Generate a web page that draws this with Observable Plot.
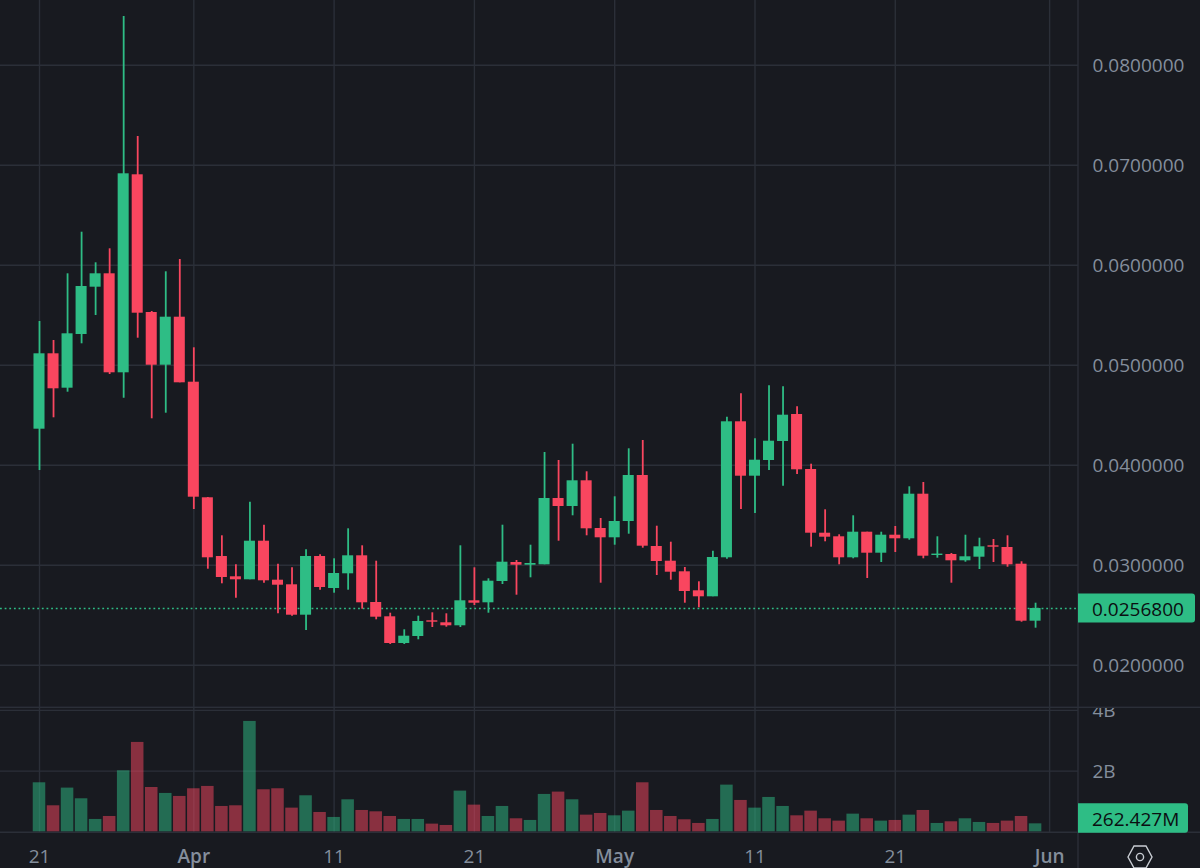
<!DOCTYPE html>
<html>
<head>
<meta charset="utf-8">
<script src="https://cdn.jsdelivr.net/npm/d3@7"></script>
<script src="https://cdn.jsdelivr.net/npm/@observablehq/plot@0.6"></script>
<style>
  html, body { margin: 0; padding: 0; background: #181a20; }
  #chart { width: 1200px; height: 868px; overflow: hidden; }
  #chart svg { display: block; max-width: none; }
</style>
</head>
<body>
<div id="chart"></div>
<script>
const startDay = "2024-03-21";
const xDomain = ["2024-03-18T05:17Z", "2024-06-03T01:26Z"];

const opens = [
  .04361,.05115,.04771,.05308,.05781,.05915,.04925,.06905,.05528,.05001,
  .05481,.04831,.03675,.03088,.02885,.02855,.03241,.02851,.02805,.02501,
  .03088,.02768,.02915,.03095,.02628,.02485,.02218,.02288,.02445,.02425,
  .02395,.02645,.02625,.02838,.03028,.03001,.03005,.03668,.03588,.03845,
  .03368,.03275,.03438,.03898,.03188,.03041,.02935,.02745,.02685,.03075,
  .04435,.03891,.04048,.04238,.04508,.03958,.03321,.03285,.03075,.03331,
  .03121,.03301,.03265,.03711,.03098,.03108,.03045,.03081,.03195,.03178,
  .03011,.02441];
const highs = [
  .05438,.05248,.05915,.06331,.06025,.06165,.08488,.07288,.05538,.05935,
  .06058,.05175,.03678,.03295,.03005,.03631,.03401,.03011,.02975,.03155,
  .03105,.03065,.03365,.03195,.03041,.02521,.02355,.02491,.02525,.02515,
  .03195,.02975,.02865,.03401,.03048,.03201,.04128,.04048,.04211,.03935,
  .03468,.03685,.04165,.04248,.03391,.03231,.02978,.02835,.03141,.04481,
  .04715,.04265,.04795,.04785,.04585,.04011,.03555,.03305,.03495,.03331,
  .03331,.03388,.03785,.03828,.03285,.03118,.03301,.03271,.03258,.03295,
  .03035,.02621];
const lows = [
  .03948,.04475,.04731,.05215,.05498,.04908,.04671,.05271,.04465,.04521,
  .04825,.03558,.02961,.02815,.02671,.02855,.02821,.02515,.02491,.02348,
  .02751,.02721,.02751,.02561,.02455,.02208,.02208,.02255,.02378,.02381,
  .02378,.02598,.02521,.02808,.02701,.02875,.03005,.03241,.03495,.03295,
  .02821,.03201,.03311,.03171,.02898,.02851,.02621,.02575,.02685,.03061,
  .03558,.03518,.03948,.03791,.03908,.03181,.03235,.03005,.03065,.02868,
  .03028,.03128,.03251,.03065,.03071,.02821,.03031,.02958,.03028,.02981,
  .02431,.02371];
const closes = [
  .05115,.04765,.05315,.05788,.05915,.04925,.06915,.05521,.05001,.05481,
  .04825,.03681,.03075,.02878,.02855,.03241,.02845,.02801,.02501,.03088,
  .02778,.02918,.03095,.02625,.02481,.02218,.02291,.02438,.02431,.02395,
  .02645,.02621,.02841,.03031,.03001,.03018,.03668,.03588,.03845,.03365,
  .03275,.03438,.03898,.03191,.03038,.02931,.02738,.02685,.03078,.04435,
  .03891,.04051,.04241,.04501,.03955,.03321,.03281,.03075,.03331,.03121,
  .03301,.03265,.03711,.03091,.03112,.03045,.03085,.03185,.03181,.03005,
  .02441,.02568];
// volume, in billions
const volumes = [
  1.615,.857,1.44,1.088,.407,.505,2.01,2.945,1.46,1.264,
  1.165,1.418,1.495,.835,.857,3.637,1.385,1.418,.78,1.187,
  .637,.473,1.055,.703,.659,.505,.407,.407,.253,.209,
  1.341,.879,.505,.835,.429,.374,1.231,1.308,1.055,.549,
  .604,.527,.681,1.615,.703,.505,.396,.275,.407,1.538,
  1.033,.78,1.132,.835,.527,.681,.429,.352,.582,.429,
  .352,.374,.549,.703,.275,.33,.429,.308,.275,.352,
  .505,.262427];

const priceTicks = [0.02, 0.03, 0.04, 0.05, 0.06, 0.07, 0.08];
const volumeTicks = [2, 4];
const dayTickLabels = ["2024-03-21", "2024-04-11", "2024-04-21", "2024-05-11", "2024-05-21"];
const monthTickLabels = ["2024-04-01", "2024-05-01", "2024-06-01"];
const lastPrice = 0.02568;
const lastPriceLabel = "0.0256800";
const lastVolumeLabel = "262.427M";

const bg = "#181a20", grid = "#2b2f38", up = "#2ebd85", down = "#f9465f", muted = "#848e9c";
const font = "'Open Sans', 'Noto Sans', sans-serif";
const labelSize = 19;
const halfDay = 12 * 3600 * 1000;

const rows = opens.map((open, i) => {
  const date = d3.utcDay.offset(new Date(startDay + "T00:00Z"), i);
  return {
    date,
    from: new Date(+date - halfDay),
    to: new Date(+date + halfDay),
    open, high: highs[i], low: lows[i], close: closes[i],
    volume: volumes[i],
    color: closes[i] >= open ? up : down
  };
});
const dayTicks = dayTickLabels.map(s => new Date(s + "T00:00Z"));
const monthTicks = monthTickLabels.map(s => new Date(s + "T00:00Z"));
const allTicks = [...dayTicks, ...monthTicks];

function badge(label, right, yCenter, halfH) {
  return (index, scales, values, dim) => {
    const x0 = dim.width - dim.marginRight;
    const yc = yCenter(scales, dim);
    const r = 3;
    const g = d3.create("svg:g");
    g.append("path")
      .attr("fill", up)
      .attr("d", `M${x0},${yc - halfH}H${right - r}Q${right},${yc - halfH} ${right},${yc - halfH + r}V${yc + halfH - r}Q${right},${yc + halfH} ${right - r},${yc + halfH}H${x0}Z`);
    g.append("text")
      .attr("x", x0 + 14).attr("y", yc + 1)
      .attr("dy", "0.36em")
      .attr("text-anchor", "start")
      .attr("fill", "#0b0e11")
      .attr("font-family", font).attr("font-size", labelSize).attr("font-weight", 500)
      .text(label);
    return g.node();
  };
}

const frameLines = (index, scales, values, dim) => {
  const x0 = dim.width - dim.marginRight;
  const g = d3.create("svg:g").attr("stroke", grid).attr("stroke-width", 1.4);
  g.append("line").attr("x1", x0).attr("x2", x0).attr("y1", 0).attr("y2", dim.height);
  g.append("line").attr("x1", 0).attr("x2", dim.width)
    .attr("y1", dim.height - dim.marginBottom - 0.5).attr("y2", dim.height - dim.marginBottom - 0.5);
  return g.node();
};

const settingsIcon = (index, scales, values, dim) => {
  const cx = 1140, cy = dim.height - 11, g = d3.create("svg:g")
    .attr("fill", "none").attr("stroke", "#c9cdd3").attr("stroke-width", 1.4);
  g.append("path").attr("d", `M${cx - 12},${cy}L${cx - 6},${cy - 11}H${cx + 6}L${cx + 12},${cy}L${cx + 6},${cy + 11}H${cx - 6}Z`);
  g.append("circle").attr("cx", cx).attr("cy", cy).attr("r", 3.6);
  return g.node();
};

const pricePlot = Plot.plot({
  width: 1200, height: 708,
  marginLeft: 0, marginRight: 122, marginTop: 0, marginBottom: 0,
  style: { background: bg, fontFamily: font },
  x: { type: "utc", domain: xDomain.map(s => new Date(s)), range: [0, 1078], axis: null },
  y: { domain: [0.02, 0.08], range: [664.8, 64.8], label: null },
  marks: [
    Plot.ruleX(allTicks, { stroke: grid, strokeWidth: 1.4 }),
    Plot.ruleY(priceTicks, { stroke: grid, strokeWidth: 1.4 }),
    frameLines,
    Plot.ruleY([lastPrice], { stroke: up, strokeWidth: 1.6, strokeDasharray: "1.8 2.85" }),
    Plot.ruleX(rows, { x: "date", y1: "low", y2: "high", stroke: "color", strokeWidth: 1.8 }),
    Plot.rect(rows, { x1: "from", x2: "to", y1: "open", y2: "close", fill: "color", insetLeft: 1.5, insetRight: 1.5 }),
    Plot.axisY(priceTicks, {
      anchor: "right", label: null, tickSize: 0, tickPadding: 14, dy: 1,
      tickFormat: d => d.toFixed(7), fill: muted, fontSize: labelSize, fontWeight: 500
    }),
    badge(lastPriceLabel, 1195, (s) => s.y(lastPrice) , 14.5)
  ]
});

const volumePlot = Plot.plot({
  width: 1200, height: 160,
  marginLeft: 0, marginRight: 122, marginTop: 0, marginBottom: 35.3,
  style: { background: bg, fontFamily: font },
  x: { type: "utc", domain: xDomain.map(s => new Date(s)), range: [0, 1078], axis: null },
  y: { domain: [0, 4], range: [123.3, 1.9], label: null },
  marks: [
    Plot.ruleX(allTicks, { stroke: grid, strokeWidth: 1.4 }),
    Plot.ruleY(volumeTicks, { stroke: grid, strokeWidth: 1.4 }),
    frameLines,
    Plot.rect(rows, { x1: "from", x2: "to", y1: 0, y2: "volume", fill: "color", fillOpacity: 0.5, insetLeft: 0.75, insetRight: 0.75 }),
    Plot.axisY(volumeTicks, {
      anchor: "right", label: null, tickSize: 0, tickPadding: 14, dy: 1,
      tickFormat: d => d + "B", fill: muted, fontSize: labelSize, fontWeight: 500
    }),
    Plot.axisX(dayTicks, {
      anchor: "bottom", label: null, tickSize: 0, tickPadding: 16,
      tickFormat: d => d3.utcFormat("%-d")(d), fill: muted, fontSize: labelSize, fontWeight: 500
    }),
    Plot.axisX(monthTicks, {
      anchor: "bottom", label: null, tickSize: 0, tickPadding: 16,
      tickFormat: d => d3.utcFormat("%b")(d), fill: muted, fontSize: labelSize, fontWeight: 600
    }),
    badge(lastVolumeLabel, 1188, (s, dim) => dim.height - dim.marginBottom - 14.7, 14.7),
    settingsIcon
  ]
});

// separator line between the two panes, sitting along the bottom of the price pane
d3.select(pricePlot).append("line")
  .attr("x1", 0).attr("x2", 1200).attr("y1", 707.4).attr("y2", 707.4)
  .attr("stroke", grid).attr("stroke-width", 1.4);

const chart = document.getElementById("chart");
chart.append(pricePlot, volumePlot);
</script>
</body>
</html>
